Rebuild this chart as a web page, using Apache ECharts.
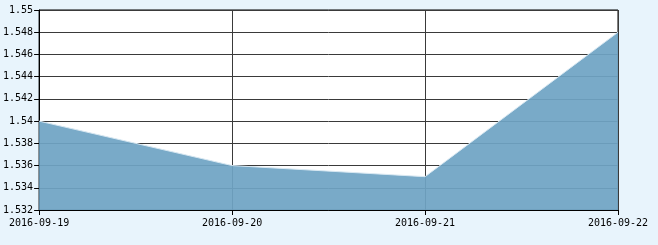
<!DOCTYPE html>
<html><head><meta charset="utf-8">
<script src="https://cdn.jsdelivr.net/npm/echarts@6/dist/echarts.min.js"></script>
<style>html,body{margin:0;padding:0;background:#e8f4fc;}#c{width:658px;height:245px;}</style>
</head><body><div id="c"></div>
<script>
var categories = ['2016-09-19', '2016-09-20', '2016-09-21', '2016-09-22'];
var values = [1.540, 1.536, 1.535, 1.548];
var yMin = 1.532, yMax = 1.55, yStep = 0.002;

var chart = echarts.init(document.getElementById('c'));
var font = '"DejaVu Sans Mono", monospace';
chart.setOption({
  backgroundColor: '#e8f4fc',
  animation: false,
  grid: { left: 39, right: 40, top: 10, bottom: 35, show: true, backgroundColor: '#ffffff', borderColor: '#000', borderWidth: 1 },
  xAxis: {
    type: 'category', data: categories, boundaryGap: false,
    axisLine: { lineStyle: { color: '#000', width: 1 } },
    axisTick: { show: true, length: 5, inside: false, lineStyle: { color: '#000' }, alignWithLabel: true },
    axisLabel: { color: '#000', fontFamily: font, fontSize: 10, margin: 8, showMinLabel: true, showMaxLabel: true, interval: 0 },
    splitLine: { show: true, lineStyle: { color: '#3a3a3a', width: 1 } }
  },
  yAxis: {
    type: 'value', min: yMin, max: yMax, interval: yStep,
    axisLine: { show: true, lineStyle: { color: '#000', width: 1 } },
    axisTick: { show: true, length: 5, lineStyle: { color: '#000' } },
    axisLabel: { color: '#000', fontFamily: font, fontSize: 10, margin: 6,
      formatter: function (v) { return String(+v.toFixed(3)); } },
    splitLine: { show: true, lineStyle: { color: '#3a3a3a', width: 1 } }
  },
  series: [{
    type: 'line', data: values, symbol: 'none',
    lineStyle: { color: '#d8e8f2', width: 1 },
    areaStyle: { color: '#6fa4c4', opacity: 0.93 }
  }]
});
</script></body></html>
